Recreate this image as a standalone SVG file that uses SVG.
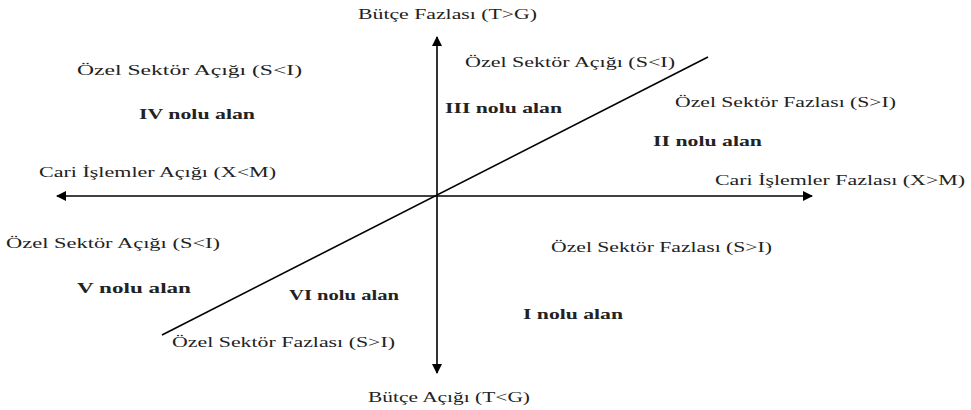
<svg xmlns="http://www.w3.org/2000/svg" width="971" height="410" viewBox="0 0 971 410">
<style>
text{font-family:"Liberation Serif","Times New Roman",serif;font-size:15px;fill:#222}
.b{font-weight:bold}
.ax{stroke:#000;stroke-width:1.6;fill:none}
</style>
<defs>
<marker id="ah" viewBox="0 0 10 10" refX="9" refY="5" markerWidth="10" markerHeight="10" markerUnits="userSpaceOnUse" orient="auto">
<path d="M0,0 L10,5 L0,10 z" fill="#000"/>
</marker>
</defs>
<rect width="971" height="410" fill="#fff"/>
<g id="connectors">
<line class="ax" x1="437" y1="196" x2="437" y2="37" marker-end="url(#ah)"/>
<line class="ax" x1="437" y1="196" x2="437" y2="373" marker-end="url(#ah)"/>
<line class="ax" x1="437" y1="196" x2="57" y2="196" marker-end="url(#ah)"/>
<line class="ax" x1="437" y1="196" x2="812" y2="196" marker-end="url(#ah)"/>
<line class="ax" x1="162" y1="335" x2="708" y2="57"/>
</g>
<g id="axis-labels">
<text x="358" y="19" textLength="179" lengthAdjust="spacingAndGlyphs">Bütçe Fazlası (T&gt;G)</text>
<text x="368" y="402" textLength="162" lengthAdjust="spacingAndGlyphs">Bütçe Açığı (T&lt;G)</text>
<text x="39" y="177" textLength="237" lengthAdjust="spacingAndGlyphs">Cari İşlemler Açığı (X&lt;M)</text>
<text x="715" y="185" textLength="250" lengthAdjust="spacingAndGlyphs">Cari İşlemler Fazlası (X&gt;M)</text>
</g>
<g id="region-IV">
<text x="77" y="75" textLength="225" lengthAdjust="spacingAndGlyphs">Özel Sektör Açığı (S&lt;I)</text>
<text class="b" x="139" y="119" textLength="116" lengthAdjust="spacingAndGlyphs">IV nolu alan</text>
</g>
<g id="region-III">
<text x="465" y="67" textLength="210" lengthAdjust="spacingAndGlyphs">Özel Sektör Açığı (S&lt;I)</text>
<text class="b" x="445" y="113" textLength="117" lengthAdjust="spacingAndGlyphs">III nolu alan</text>
</g>
<g id="region-II">
<text x="675" y="107" textLength="221" lengthAdjust="spacingAndGlyphs">Özel Sektör Fazlası (S&gt;I)</text>
<text class="b" x="653" y="146" textLength="109" lengthAdjust="spacingAndGlyphs">II nolu alan</text>
</g>
<g id="region-V">
<text x="6" y="248" textLength="214" lengthAdjust="spacingAndGlyphs">Özel Sektör Açığı (S&lt;I)</text>
<text class="b" x="77" y="293" textLength="114" lengthAdjust="spacingAndGlyphs">V nolu alan</text>
</g>
<g id="region-VI">
<text class="b" x="289" y="300" textLength="110" lengthAdjust="spacingAndGlyphs">VI nolu alan</text>
<text x="172" y="347" textLength="223" lengthAdjust="spacingAndGlyphs">Özel Sektör Fazlası (S&gt;I)</text>
</g>
<g id="region-I">
<text x="551" y="252" textLength="221" lengthAdjust="spacingAndGlyphs">Özel Sektör Fazlası (S&gt;I)</text>
<text class="b" x="523" y="319" textLength="100" lengthAdjust="spacingAndGlyphs">I nolu alan</text>
</g>
</svg>
